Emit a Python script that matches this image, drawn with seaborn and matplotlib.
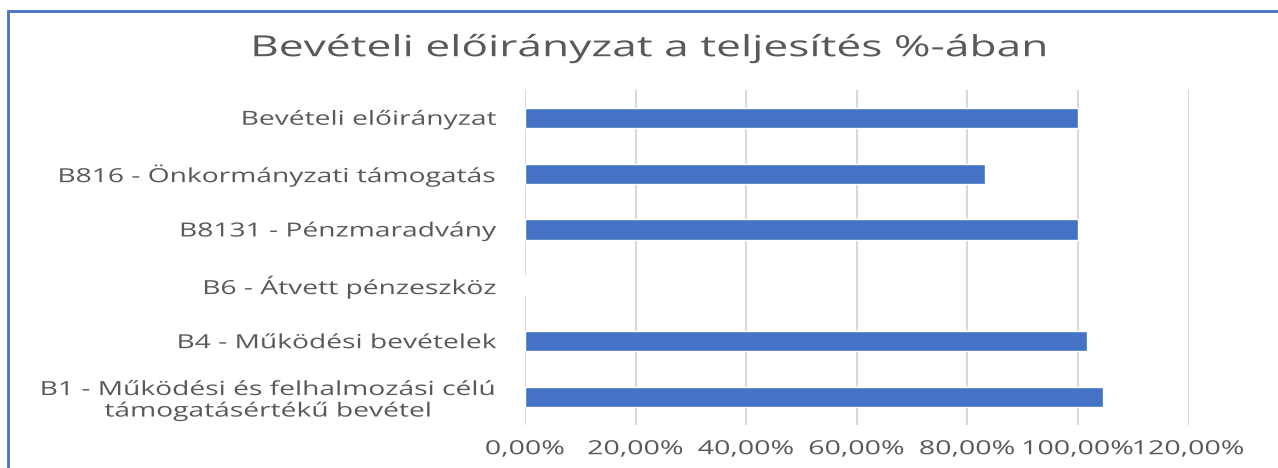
import matplotlib
matplotlib.use('Agg')
import matplotlib.pyplot as plt
import matplotlib.ticker as mticker
from matplotlib.patches import Rectangle
from matplotlib.patheffects import AbstractPathEffect
from matplotlib.transforms import Affine2D
import pandas as pd
import seaborn as sns

# chart data (top to bottom, as in the reference)
categories = ['Bevételi előirányzat',
              'B816 - Önkormányzati támogatás',
              'B8131 - Pénzmaradvány',
              'B6 - Átvett pénzeszköz',
              'B4 - Működési bevételek',
              'B1 - Működési és felhalmozási célú\ntámogatásértékű bevétel']
values = [100.0, 83.1, 100.0, 0.0, 101.7, 104.6]
x_ticks = [0, 20, 40, 60, 80, 100, 120]

title = 'Bevételi előirányzat a teljesítés %-ában'
bar_color = '#4472C4'
text_color = '#595959'


class Stretch(AbstractPathEffect):
    """Widen a text horizontally around its anchor (the screenshot is stretched)."""

    def __init__(self, text, sx):
        super().__init__()
        self.text = text
        self.sx = sx

    def draw_path(self, renderer, gc, tpath, affine, rgbFace=None):
        bb = self.text.get_window_extent(renderer)
        ha = self.text.get_horizontalalignment()
        x0 = {'left': bb.x0, 'right': bb.x1}.get(ha, (bb.x0 + bb.x1) / 2)
        affine = affine + Affine2D().translate(-x0, 0).scale(self.sx, 1).translate(x0, 0)
        renderer.draw_path(gc, tpath, affine, rgbFace)


df = pd.DataFrame({'category': categories, 'value': values})

sns.set_theme(style='white')
plt.rcParams['font.family'] = ['Open Sans', 'DejaVu Sans']

fig = plt.figure(figsize=(12.78, 4.68), dpi=100)
ax = fig.add_axes([0.411, 0.092, 0.519, 0.716])

sns.barplot(data=df, x='value', y='category', orient='h', color=bar_color,
            width=0.36, saturation=1, ax=ax)

ax.set_xlim(0, 120)
ax.set_xticks(x_ticks)
ax.xaxis.set_major_formatter(mticker.FuncFormatter(lambda v, p: f'{v:.2f}%'.replace('.', ',')))
ax.grid(axis='x', color='#D9D9D9', linewidth=1.5)
ax.set_axisbelow(True)
for s in ax.spines.values():
    s.set_visible(False)
ax.set_xlabel('')
ax.set_ylabel('')
ax.tick_params(axis='x', length=0, pad=11, labelsize=14, labelcolor=text_color)
ax.tick_params(axis='y', length=0, pad=20, labelsize=14, labelcolor=text_color)
for lbl in ax.get_yticklabels():
    lbl.set_multialignment('center')
    lbl.set_linespacing(1.25)
    lbl.set_path_effects([Stretch(lbl, 1.45)])
for lbl in ax.get_xticklabels():
    lbl.set_path_effects([Stretch(lbl, 1.47)])

t = fig.text(0.508, 0.897, title, ha='center', va='center', fontsize=21, color=text_color)
t.set_path_effects([Stretch(t, 1.52)])

# chart frame (left and top edges visible in the screenshot)
fig.patches.append(Rectangle((0.0065, -0.1), 1.2, 1.077, transform=fig.transFigure,
                             fill=False, edgecolor=bar_color, linewidth=2))

fig.savefig('out.png', dpi=100, facecolor='white')
